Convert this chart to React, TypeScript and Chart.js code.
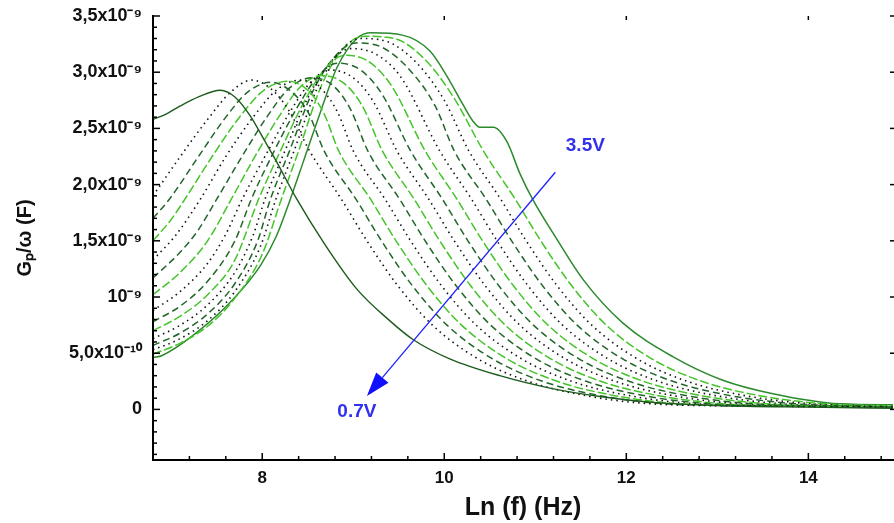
import React, { useEffect, useRef } from 'react';
import { Chart, registerables } from 'chart.js';

Chart.register(...registerables);

// Gp/ω values are given in units of 1e-9 F; x is Ln(f)
const VOLTAGES = ['0.7V', '0.9V', '1.1V', '1.3V', '1.5V', '1.7V', '1.9V', '2.1V', '2.3V', '2.5V', '2.7V', '2.9V', '3.1V', '3.3V', '3.5V'];

const V07: [number, number][] = [[6.8, 2.58], [6.95, 2.63], [7.1, 2.7], [7.3, 2.78], [7.54, 2.84], [7.7, 2.78], [7.87, 2.61], [8.02, 2.4], [8.16, 2.2], [8.38, 1.87], [8.67, 1.49], [9.04, 1.07], [9.4, 0.79], [9.66, 0.62], [10.06, 0.45], [10.61, 0.3], [11.16, 0.19], [11.71, 0.115], [12.26, 0.065], [13.0, 0.035], [14.0, 0.02], [15, 0.01]];
const V09: [number, number][] = [[6.8, 1.9], [7.1, 2.25], [7.4, 2.58], [7.65, 2.82], [7.88, 2.93], [8.1, 2.85], [8.3, 2.65], [8.52, 2.3], [8.87, 1.87], [9.15, 1.5], [9.49, 1.1], [9.87, 0.75], [10.37, 0.45], [10.92, 0.25], [11.57, 0.12], [12.27, 0.05], [13.5, 0.03], [15, 0.02]];
const V11: [number, number][] = [[6.8, 1.7], [6.98, 1.87], [7.3, 2.25], [7.6, 2.6], [7.85, 2.83], [8.1, 2.91], [8.3, 2.84], [8.5, 2.65], [8.68, 2.3], [9.03, 1.87], [9.31, 1.5], [9.65, 1.1], [10.03, 0.75], [10.53, 0.45], [11.08, 0.25], [11.73, 0.12], [12.43, 0.05], [13.6, 0.03], [15, 0.02]];
const V13: [number, number][] = [[6.8, 1.5], [7.0, 1.69], [7.15, 1.87], [7.45, 2.25], [7.75, 2.6], [8.02, 2.84], [8.28, 2.92], [8.5, 2.84], [8.68, 2.63], [8.84, 2.3], [9.19, 1.87], [9.47, 1.5], [9.81, 1.1], [10.19, 0.75], [10.69, 0.45], [11.24, 0.25], [11.89, 0.12], [12.59, 0.05], [13.7, 0.03], [15, 0.02]];
const V15: [number, number][] = [[6.8, 1.33], [7.05, 1.55], [7.32, 1.87], [7.6, 2.25], [7.9, 2.6], [8.17, 2.85], [8.42, 2.93], [8.65, 2.85], [8.83, 2.64], [9.0, 2.3], [9.35, 1.87], [9.63, 1.5], [9.97, 1.1], [10.35, 0.75], [10.85, 0.45], [11.4, 0.25], [12.05, 0.12], [12.75, 0.05], [13.8, 0.03], [15, 0.02]];
const V17: [number, number][] = [[6.8, 1.17], [7.1, 1.4], [7.3, 1.6], [7.5, 1.87], [7.8, 2.28], [8.05, 2.6], [8.3, 2.86], [8.55, 2.95], [8.78, 2.88], [8.97, 2.67], [9.16, 2.3], [9.51, 1.87], [9.79, 1.5], [10.13, 1.1], [10.51, 0.75], [11.01, 0.45], [11.56, 0.25], [12.21, 0.12], [12.91, 0.05], [13.9, 0.03], [15, 0.02]];
const V19: [number, number][] = [[6.8, 1.02], [7.1, 1.22], [7.4, 1.5], [7.66, 1.87], [7.92, 2.25], [8.18, 2.6], [8.42, 2.87], [8.65, 2.97], [8.9, 2.9], [9.1, 2.7], [9.32, 2.3], [9.67, 1.87], [9.95, 1.5], [10.29, 1.1], [10.67, 0.75], [11.17, 0.45], [11.72, 0.25], [12.37, 0.12], [13.07, 0.05], [14.0, 0.03], [15, 0.02]];
const V21: [number, number][] = [[6.8, 0.88], [7.1, 1.05], [7.4, 1.3], [7.6, 1.56], [7.78, 1.87], [8.05, 2.28], [8.3, 2.64], [8.52, 2.9], [8.74, 3.02], [9.0, 2.95], [9.22, 2.74], [9.48, 2.3], [9.83, 1.87], [10.11, 1.5], [10.45, 1.1], [10.83, 0.75], [11.33, 0.45], [11.88, 0.25], [12.53, 0.12], [13.23, 0.05], [14.1, 0.03], [15, 0.02]];
const V23: [number, number][] = [[6.8, 0.78], [7.1, 0.92], [7.4, 1.14], [7.7, 1.5], [7.88, 1.87], [8.12, 2.28], [8.38, 2.68], [8.6, 2.95], [8.82, 3.08], [9.08, 3.02], [9.32, 2.8], [9.63, 2.3], [9.98, 1.87], [10.26, 1.5], [10.6, 1.1], [10.98, 0.75], [11.48, 0.45], [12.03, 0.25], [12.68, 0.12], [13.38, 0.05], [14.2, 0.03], [15, 0.02]];
const V25: [number, number][] = [[6.8, 0.7], [7.1, 0.83], [7.4, 1.02], [7.7, 1.33], [7.96, 1.87], [8.2, 2.3], [8.45, 2.72], [8.68, 3.02], [8.9, 3.15], [9.16, 3.1], [9.42, 2.88], [9.79, 2.3], [10.14, 1.87], [10.42, 1.5], [10.76, 1.1], [11.14, 0.75], [11.64, 0.45], [12.19, 0.25], [12.84, 0.12], [13.54, 0.05], [14.3, 0.03], [15, 0.02]];
const V27: [number, number][] = [[6.8, 0.63], [7.1, 0.75], [7.4, 0.93], [7.7, 1.22], [7.9, 1.55], [8.03, 1.87], [8.25, 2.3], [8.5, 2.77], [8.74, 3.08], [8.97, 3.21], [9.25, 3.16], [9.52, 2.96], [9.95, 2.3], [10.3, 1.87], [10.58, 1.5], [10.92, 1.1], [11.3, 0.75], [11.8, 0.45], [12.35, 0.25], [13.0, 0.12], [13.7, 0.05], [14.4, 0.03], [15, 0.02]];
const V29: [number, number][] = [[6.8, 0.57], [7.1, 0.68], [7.4, 0.85], [7.7, 1.12], [7.95, 1.5], [8.09, 1.87], [8.3, 2.3], [8.55, 2.82], [8.8, 3.14], [9.03, 3.26], [9.32, 3.22], [9.62, 3.02], [9.9, 2.7], [10.11, 2.3], [10.46, 1.87], [10.74, 1.5], [11.08, 1.1], [11.46, 0.75], [11.96, 0.45], [12.51, 0.25], [13.16, 0.12], [13.86, 0.05], [14.5, 0.03], [15, 0.02]];
const V31: [number, number][] = [[6.8, 0.53], [7.1, 0.63], [7.4, 0.79], [7.7, 1.05], [7.98, 1.45], [8.15, 1.87], [8.35, 2.3], [8.6, 2.85], [8.85, 3.18], [9.08, 3.3], [9.38, 3.27], [9.7, 3.08], [10.0, 2.75], [10.27, 2.3], [10.62, 1.87], [10.9, 1.5], [11.24, 1.1], [11.62, 0.75], [12.12, 0.45], [12.67, 0.25], [13.32, 0.12], [14.02, 0.05], [14.6, 0.03], [15, 0.025]];
const V33: [number, number][] = [[6.8, 0.49], [7.1, 0.59], [7.4, 0.74], [7.7, 0.99], [8.0, 1.38], [8.21, 1.87], [8.4, 2.3], [8.65, 2.88], [8.9, 3.22], [9.13, 3.32], [9.45, 3.3], [9.78, 3.12], [10.1, 2.78], [10.43, 2.3], [10.78, 1.87], [11.06, 1.5], [11.4, 1.1], [11.78, 0.75], [12.28, 0.45], [12.83, 0.25], [13.48, 0.12], [14.18, 0.05], [15, 0.03]];
const V35: [number, number][] = [[6.8, 0.46], [6.9, 0.48], [7.32, 0.71], [7.68, 0.98], [7.98, 1.28], [8.16, 1.55], [8.3, 1.85], [8.45, 2.2], [8.62, 2.6], [8.82, 3.04], [9.04, 3.3], [9.2, 3.35], [9.54, 3.33], [9.84, 3.19], [10.04, 2.95], [10.2, 2.72], [10.32, 2.56], [10.39, 2.51], [10.54, 2.51], [10.69, 2.38], [10.83, 2.1], [10.97, 1.87], [11.24, 1.51], [11.53, 1.15], [11.96, 0.77], [12.51, 0.47], [13.06, 0.26], [13.61, 0.14], [14.35, 0.05], [15, 0.04]];

const SERIES = [V07, V09, V11, V13, V15, V17, V19, V21, V23, V25, V27, V29, V31, V33, V35];

const X_TICKS = [8, 10, 12, 14];
const Y_TICKS = [0, 0.5, 1, 1.5, 2, 2.5, 3, 3.5];
const Y_TICK_LABELS = ['0', '5,0x10⁻¹⁰', '10⁻⁹', '1,5x10⁻⁹', '2,0x10⁻⁹', '2,5x10⁻⁹', '3,0x10⁻⁹', '3,5x10⁻⁹'];
const X_TITLE = 'Ln (f) (Hz)';
const Y_TITLE = 'Gₚ/ω (F)';

const ARROW_FROM = [11.22, 2.11];
const ARROW_TO = [9.15, 0.12];
const LABEL_HIGH = { text: '3.5V', x: 11.55, y: 2.35 };
const LABEL_LOW = { text: '0.7V', x: 9.04, y: -0.02 };

// axis configuration
const X_MIN = 6.8;
const X_MAX = 14.93;
const X_MINOR_STEP = 0.4;
const Y_MIN = -0.45;
const Y_MAX = 3.5;
const Y_MINOR_STEP = 0.1;

const STYLES: Record<string, { color: string; dash: number[]; width: number }> = {
  solidDark: { color: '#1d5a1d', dash: [], width: 1.4 },
  solidMid: { color: '#2b8a2b', dash: [], width: 1.5 },
  dot: { color: '#111111', dash: [1.5, 4], width: 1.6 },
  dark: { color: '#22662a', dash: [7, 4], width: 1.5 },
  light: { color: '#45c42a', dash: [9, 3], width: 1.5 },
};
const STYLE_ORDER = ['solidDark', 'dot', 'dark', 'light', 'dot', 'dark', 'light', 'dot', 'dark', 'light', 'dot', 'dark', 'dot', 'light', 'solidMid'];

const FONT = "'Liberation Sans', Arial, sans-serif";

const decor = {
  id: 'decor',
  afterDraw(chart: any) {
    const { ctx, chartArea: a, scales } = chart;
    const xs = scales.x;
    const ys = scales.y;
    const line = (x1: number, y1: number, x2: number, y2: number) => {
      ctx.beginPath();
      ctx.moveTo(x1, y1);
      ctx.lineTo(x2, y2);
      ctx.stroke();
    };
    ctx.save();
    ctx.strokeStyle = '#000';
    ctx.lineWidth = 2;
    ctx.beginPath();
    ctx.moveTo(a.left, a.top - 1);
    ctx.lineTo(a.left, a.bottom);
    ctx.lineTo(a.right + 2, a.bottom);
    ctx.stroke();

    ctx.lineWidth = 1.5;
    for (let k = 0; ; k++) {
      const v = X_MIN + k * X_MINOR_STEP;
      if (v > X_MAX + 1e-6) break;
      const px = xs.getPixelForValue(v);
      const major = Math.abs(v / 2 - Math.round(v / 2)) < 1e-6;
      line(px, a.bottom, px, a.bottom - (major ? 7 : 4));
      if (major) line(px, a.top, px, a.top + 4);
    }
    const kStart = Math.ceil((Y_MIN - 1e-6) / Y_MINOR_STEP);
    for (let k = kStart; ; k++) {
      const v = k * Y_MINOR_STEP;
      if (v > Y_MAX + 1e-6) break;
      const py = ys.getPixelForValue(v);
      const major = k % 5 === 0;
      line(a.left, py, a.left + (major ? 7 : 4), py);
      if (major) line(a.right - 3, py, a.right + 1, py);
    }

    // arrow
    const x0 = xs.getPixelForValue(ARROW_FROM[0]);
    const y0 = ys.getPixelForValue(ARROW_FROM[1]);
    const x1 = xs.getPixelForValue(ARROW_TO[0]);
    const y1 = ys.getPixelForValue(ARROW_TO[1]);
    const ang = Math.atan2(y1 - y0, x1 - x0);
    const headLen = 24;
    const headW = 8;
    const bx = x1 - headLen * Math.cos(ang);
    const by = y1 - headLen * Math.sin(ang);
    ctx.strokeStyle = '#2020ff';
    ctx.fillStyle = '#1010ff';
    ctx.lineWidth = 1.3;
    line(x0, y0, bx, by);
    ctx.beginPath();
    ctx.moveTo(x1, y1);
    ctx.lineTo(bx + headW * Math.sin(ang), by - headW * Math.cos(ang));
    ctx.lineTo(bx - headW * Math.sin(ang), by + headW * Math.cos(ang));
    ctx.closePath();
    ctx.fill();

    ctx.fillStyle = '#3030ee';
    ctx.font = `bold 19px ${FONT}`;
    ctx.textAlign = 'center';
    ctx.textBaseline = 'middle';
    for (const lab of [LABEL_HIGH, LABEL_LOW]) {
      ctx.fillText(lab.text, xs.getPixelForValue(lab.x), ys.getPixelForValue(lab.y));
    }
    ctx.restore();
  },
};

export default function App() {
  const ref = useRef<HTMLCanvasElement | null>(null);
  useEffect(() => {
    if (!ref.current) return;
    const datasets = SERIES.map((pts, i) => {
      const st = STYLES[STYLE_ORDER[i]];
      return {
        label: VOLTAGES[i],
        data: pts.map(([x, y]) => ({ x, y })),
        borderColor: st.color,
        borderDash: st.dash,
        borderWidth: st.width,
        pointRadius: 0,
        fill: false,
        cubicInterpolationMode: 'monotone' as const,
      };
    });
    const chart = new Chart(ref.current, {
      type: 'line',
      data: { datasets },
      options: {
        animation: false,
        responsive: false,
        layout: { padding: { top: 16, right: 1, left: 0, bottom: 0 } },
        plugins: { legend: { display: false }, tooltip: { enabled: false } },
        scales: {
          x: {
            type: 'linear',
            min: X_MIN,
            max: X_MAX,
            grid: { display: false, drawTicks: false },
            border: { display: false },
            afterBuildTicks: (s: any) => {
              s.ticks = X_TICKS.map((v) => ({ value: v }));
            },
            afterFit: (s: any) => {
              s.height = 63;
              s.paddingLeft = 0;
              s.paddingRight = 0;
            },
            ticks: {
              padding: 8,
              color: '#111',
              font: { family: FONT, size: 17, weight: 'bold' },
              callback: (v: any) => String(v),
            },
            title: {
              display: true,
              text: X_TITLE,
              color: '#111',
              font: { family: FONT, size: 25, weight: 'bold' },
              padding: { top: 0, bottom: 0 },
            },
          },
          y: {
            type: 'linear',
            min: Y_MIN,
            max: Y_MAX,
            grid: { display: false, drawTicks: false },
            border: { display: false },
            afterBuildTicks: (s: any) => {
              s.ticks = Y_TICKS.map((v) => ({ value: v }));
            },
            afterFit: (s: any) => {
              s.width = 153;
              s.paddingTop = 0;
              s.paddingBottom = 0;
            },
            ticks: {
              padding: 11,
              color: '#111',
              font: { family: FONT, size: 18, weight: 'bold' },
              callback: (v: any) => {
                const i = Y_TICKS.findIndex((t) => Math.abs(t - v) < 1e-9);
                return i >= 0 ? Y_TICK_LABELS[i] : '';
              },
            },
            title: {
              display: true,
              text: Y_TITLE,
              color: '#111',
              font: { family: FONT, size: 20, weight: 'bold' },
              padding: { top: 13, bottom: 0 },
            },
          },
        },
      },
      plugins: [decor],
    });
    return () => chart.destroy();
  }, []);
  return (
    <div style={{ position: 'absolute', left: 0, top: 0, width: 894, height: 523, background: '#fff' }}>
      <canvas ref={ref} width={894} height={523} style={{ display: 'block' }} />
    </div>
  );
}
